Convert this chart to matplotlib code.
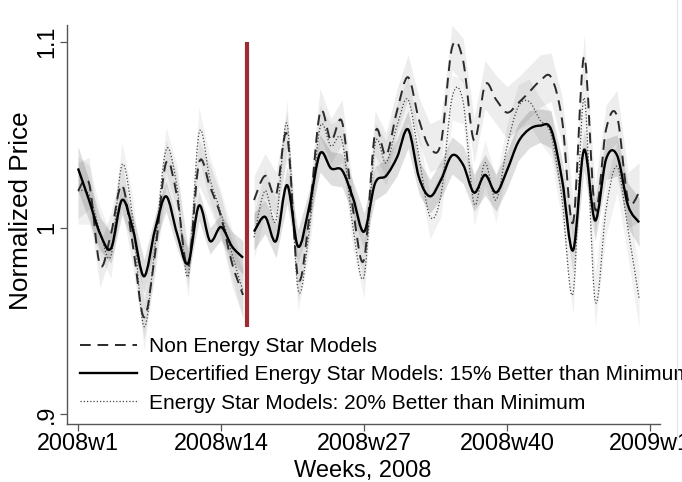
import numpy as np
import matplotlib
matplotlib.use("Agg")
import matplotlib.pyplot as plt
from matplotlib.path import Path
from matplotlib.patches import PathPatch
from matplotlib.lines import Line2D

plt.rcParams["font.family"] = ["Liberation Sans", "DejaVu Sans"]

# weeks before / after the decertification
weeks_a = list(range(1, 17))
weeks_b = list(range(17, 53))
event_week = 16.4

# Non Energy Star Models
dash_a = [1.020, 1.024, 0.980, 0.997, 1.023, 0.990, 0.952, 0.986,
          1.035, 1.017, 0.979, 1.035, 1.022, 1.006, 0.981, 0.964]
dash_b = [1.015, 1.028, 1.018, 1.050, 0.973, 1.005, 1.062, 1.047, 1.057,
          1.010, 0.983, 1.051, 1.039, 1.063, 1.081, 1.058, 1.043, 1.046,
          1.097, 1.090, 1.047, 1.077, 1.069, 1.062, 1.067, 1.073, 1.079,
          1.081, 1.058, 1.003, 1.092, 1.010, 1.053, 1.060, 1.015, 1.019]

# Decertified Energy Star Models
solid_a = [1.032, 1.015, 0.997, 0.989, 1.015, 0.999, 0.974, 0.999,
           1.017, 0.997, 0.981, 1.012, 0.993, 1.0005, 0.990, 0.984]
solid_b = [0.998, 1.006, 0.993, 1.023, 0.990, 1.011, 1.040, 1.032, 1.031,
           1.016, 0.998, 1.024, 1.028, 1.038, 1.053, 1.027, 1.017, 1.026,
           1.039, 1.034, 1.019, 1.0285, 1.019, 1.031, 1.046, 1.053, 1.055,
           1.053, 1.026, 0.988, 1.042, 1.004, 1.037, 1.039, 1.012, 1.003]

# Energy Star Models: 20% better
dot_a = [1.020, 1.018, 0.998, 0.985, 1.034, 1.004, 0.947, 0.990,
         1.042, 1.022, 0.974, 1.051, 1.026, 1.008, 0.986, 0.966]
dot_b = [0.995, 1.020, 1.004, 1.056, 0.967, 0.998, 1.054, 1.044, 1.047,
         1.000, 0.974, 1.045, 1.035, 1.055, 1.069, 1.038, 1.006, 1.018,
         1.070, 1.068, 1.013, 1.035, 1.015, 1.044, 1.065, 1.068, 1.058,
         1.050, 1.015, 0.965, 1.070, 0.961, 1.010, 1.033, 0.999, 0.962]

# confidence band half widths
solid_hw_a = [0.012, 0.011, 0.009, 0.008, 0.008, 0.008, 0.009, 0.008,
              0.008, 0.008, 0.008, 0.008, 0.007, 0.007, 0.008, 0.009]
solid_hw_b = [0.010, 0.009, 0.009, 0.010, 0.009, 0.009, 0.010, 0.009, 0.009,
              0.009, 0.010, 0.009, 0.009, 0.010, 0.010, 0.009, 0.009, 0.010,
              0.010, 0.010, 0.010, 0.011, 0.010, 0.010, 0.010, 0.010, 0.009,
              0.010, 0.011, 0.012, 0.011, 0.011, 0.011, 0.011, 0.012, 0.013]
dash_hw_a = [0.015, 0.014, 0.012, 0.011, 0.012, 0.012, 0.012, 0.011,
             0.012, 0.012, 0.011, 0.012, 0.012, 0.011, 0.012, 0.013]
dash_hw_b = [0.013, 0.012, 0.012, 0.013, 0.012, 0.012, 0.013, 0.012, 0.012,
             0.012, 0.012, 0.012, 0.012, 0.012, 0.012, 0.012, 0.013, 0.013,
             0.012, 0.012, 0.012, 0.013, 0.013, 0.014, 0.014, 0.014, 0.014,
             0.013, 0.013, 0.012, 0.012, 0.013, 0.013, 0.014, 0.015, 0.016]
dot_hw_a = [0.018, 0.016, 0.013, 0.012, 0.012, 0.012, 0.013, 0.012,
            0.012, 0.012, 0.012, 0.014, 0.012, 0.012, 0.013, 0.014]
dot_hw_b = [0.012, 0.012, 0.012, 0.013, 0.012, 0.012, 0.012, 0.012, 0.012,
            0.012, 0.012, 0.012, 0.012, 0.012, 0.012, 0.012, 0.012, 0.012,
            0.012, 0.012, 0.012, 0.012, 0.012, 0.012, 0.012, 0.012, 0.012,
            0.012, 0.012, 0.012, 0.014, 0.014, 0.014, 0.014, 0.015, 0.016]

xtick_pos = [1, 14, 27, 40, 53]
xtick_lab = ["2008w1", "2008w14", "2008w27", "2008w40", "2009w1"]
ytick_pos = [0.9, 1.0, 1.1]
ytick_lab = [".9", "1", "1.1"]
labels = ["Non Energy Star Models",
          "Decertified Energy Star Models: 15% Better than Minimum",
          "Energy Star Models: 20% Better than Minimum"]


def spline_path(x, y):
    # smooth curve through the points as cubic bezier segments
    pts = np.column_stack([np.asarray(x, float), np.asarray(y, float)])
    pad = np.vstack([pts[0], pts, pts[-1]])
    verts = [pts[0]]
    codes = [Path.MOVETO]
    for i in range(len(pts) - 1):
        p0, p1, p2, p3 = pad[i], pad[i + 1], pad[i + 2], pad[i + 3]
        verts += [p1 + (p2 - p0) / 6, p2 - (p3 - p1) / 6, p2]
        codes += [Path.CURVE4] * 3
    return Path(verts, codes)


W, H = 682, 482
fig = plt.figure(figsize=(W / 100, H / 100), dpi=100)
ax = fig.add_axes([67 / W, 58 / H, 593 / W, 399 / H])

dash_style = dict(color="#2a2a2a", lw=1.4, linestyle=(0, (5.5, 3.5)))
solid_style = dict(color="black", lw=1.7, linestyle="-")
dot_style = dict(color="#444444", lw=0.9, linestyle=(0, (1, 1.6)))

segments = [
    (weeks_a, dash_a, dash_hw_a, solid_a, solid_hw_a, dot_a, dot_hw_a),
    (weeks_b, dash_b, dash_hw_b, solid_b, solid_hw_b, dot_b, dot_hw_b),
]
for wk, da, dh, so, sh, do, oh in segments:
    da, dh, so, sh, do, oh = map(np.array, (da, dh, so, sh, do, oh))
    ax.fill_between(wk, do - oh, do + oh, color="black", alpha=0.055, lw=0)
    ax.fill_between(wk, da - dh, da + dh, color="black", alpha=0.07, lw=0)
    ax.fill_between(wk, so - sh, so + sh, color="black", alpha=0.13, lw=0)
    ax.add_patch(PathPatch(spline_path(wk, do), fill=False, **dot_style))
    ax.add_patch(PathPatch(spline_path(wk, da), fill=False, **dash_style))
    ax.add_patch(PathPatch(spline_path(wk, so), fill=False, **solid_style))

ax.plot([event_week, event_week], [0.947, 1.1], color="#9e2b33", lw=3,
        solid_capstyle="butt", zorder=5)

ax.set_xlim(0, 53.9)
ax.set_ylim(0.8946, 1.1091)
ax.set_xticks(xtick_pos, xtick_lab)
ax.set_yticks(ytick_pos, ytick_lab)

for s in ["top", "right"]:
    ax.spines[s].set_visible(False)
for s in ["left", "bottom"]:
    ax.spines[s].set_color("#555555")
    ax.spines[s].set_linewidth(1.0)
ax.tick_params(axis="both", direction="out", length=5, width=0.9,
               color="#555555", labelsize=16.8)
ax.tick_params(axis="x", pad=0.5)
ax.tick_params(axis="y", pad=1.5, labelrotation=90)
for lbl in ax.get_yticklabels():
    lbl.set_va("center")

fig.text(363 / W, 1 - 477 / H, "Weeks, 2008", fontsize=17, ha="center",
         va="baseline")
fig.text(28 / W, 1 - 211 / H, "Normalized Price", fontsize=18.8,
         ha="center", va="baseline", rotation=90, rotation_mode="anchor")

handles = [Line2D([], [], **dash_style), Line2D([], [], **solid_style),
           Line2D([], [], **dot_style)]
ax.legend(handles, labels, loc="upper left",
          bbox_to_anchor=(80 / W, 1 - 337 / H), bbox_transform=fig.transFigure,
          frameon=False, fontsize=15, handlelength=2.75, handletextpad=0.55,
          labelspacing=0.45, borderpad=0, borderaxespad=0)

fig.add_artist(Line2D([677 / W, 677 / W], [1 - 440 / H, 1], color="#e4e4e4",
                      lw=0.8, transform=fig.transFigure))

fig.savefig("out.png", dpi=100)
